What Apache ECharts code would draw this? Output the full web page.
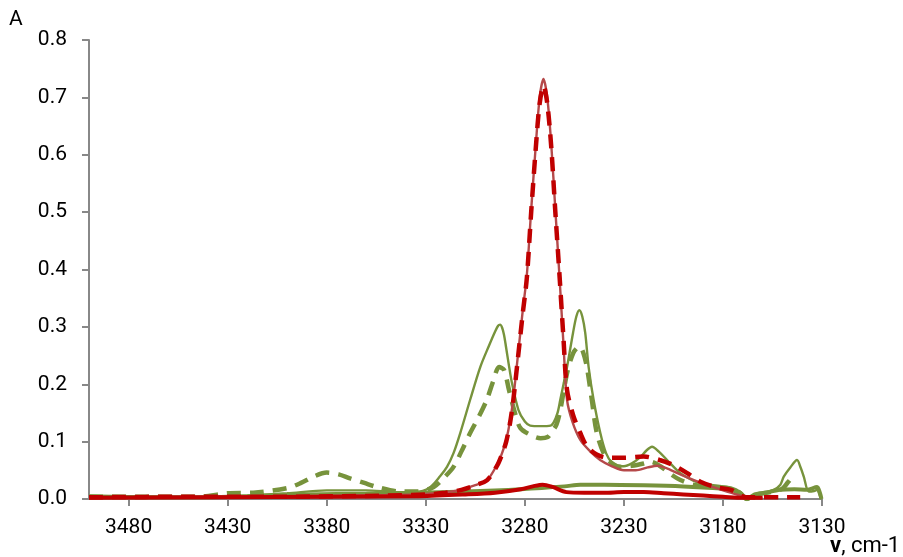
<!DOCTYPE html>
<html><head><meta charset="utf-8">
<script src="https://cdn.jsdelivr.net/npm/echarts@6/dist/echarts.min.js"></script>
<style>html,body{margin:0;padding:0;background:#fff}#c{width:903px;height:557px}</style>
</head><body><div id="c"></div>
<script>
// Wavenumbers (cm-1) and absorbance values for each curve
const greenThinX = [3500,3480,3460,3440,3420,3400,3380,3360,3345,3335,3328,3322.7,3319.3,3316,3312.6,3307.6,3302.5,3298,3295,3293.5,3292.5,3291.5,3290.5,3289.5,3288,3286.5,3283.2,3280,3277.3,3272,3267,3265.5,3263.5,3262.1,3258.7,3255.7,3254,3252.5,3251,3249.5,3247.8,3245.3,3241.9,3239,3236,3233,3230,3226,3222,3218.5,3215.8,3212.5,3208.2,3201.5,3195,3191.4,3185,3176,3171,3168,3165,3160,3154.4,3151,3149.3,3146,3142.6,3140.8,3139.2,3136.7,3134,3132.5,3130.8,3130];
const greenThinY = [0.006,0.005,0.004,0.003,0.006,0.010,0.015,0.015,0.012,0.012,0.020,0.040,0.056,0.080,0.115,0.173,0.230,0.268,0.292,0.302,0.304,0.299,0.286,0.265,0.232,0.202,0.155,0.135,0.128,0.127,0.128,0.133,0.150,0.173,0.230,0.289,0.318,0.329,0.318,0.289,0.230,0.173,0.115,0.080,0.063,0.058,0.057,0.062,0.072,0.085,0.091,0.083,0.068,0.045,0.032,0.028,0.024,0.020,0.012,0.000,0.006,0.010,0.016,0.025,0.039,0.055,0.068,0.055,0.039,0.013,0.014,0.016,0.003,0.000];

const greenDashX = [3500,3470,3445,3430,3417,3400,3393,3386.7,3380,3374,3368.2,3361,3354.7,3343,3334.5,3326,3320,3316,3312,3307.6,3303,3299.2,3296,3293,3290.5,3288,3285,3282.3,3277.3,3272,3268.5,3266.4,3264,3262.1,3258.7,3255.5,3252.4,3250.5,3248.7,3246.2,3243.6,3239.4,3235,3231.8,3226,3220,3216.7,3212,3205.8,3201.5,3195,3185,3176,3171,3168,3163,3156,3150,3147,3144.9,3143];
const greenDashY = [0.004,0.004,0.004,0.010,0.011,0.019,0.028,0.039,0.046,0.043,0.036,0.028,0.021,0.013,0.013,0.021,0.040,0.056,0.083,0.115,0.145,0.173,0.205,0.230,0.225,0.190,0.150,0.124,0.112,0.106,0.108,0.117,0.130,0.155,0.219,0.255,0.266,0.255,0.230,0.173,0.114,0.074,0.060,0.056,0.058,0.062,0.065,0.058,0.042,0.033,0.025,0.021,0.018,0.010,0.000,0.008,0.012,0.018,0.030,0.037,0.033];

const greenThickX = [3500,3450,3420,3390,3360,3335,3310,3282,3260,3252,3240,3220,3200,3185,3176,3172,3168,3164,3160,3151,3144,3137.6,3132.5,3131,3130.3];
const greenThickY = [0.003,0.003,0.005,0.008,0.009,0.011,0.013,0.017,0.022,0.025,0.025,0.024,0.022,0.019,0.016,0.010,0.000,0.008,0.010,0.016,0.017,0.016,0.021,0.010,0.000];

const redThinX = [3500,3450,3400,3350,3330,3315,3305,3299,3294,3291.5,3289.4,3287.5,3285.9,3283.5,3281,3279,3276.8,3274.4,3272.5,3270.6,3268.7,3266.7,3264.6,3262.5,3260.5,3258.7,3256,3252,3247,3242,3236,3230,3224,3218,3213,3208,3201,3194,3186,3178,3171,3165,3160];
const redThinY = [0.003,0.004,0.005,0.007,0.009,0.014,0.024,0.033,0.060,0.080,0.103,0.135,0.173,0.250,0.330,0.390,0.504,0.620,0.700,0.732,0.700,0.620,0.504,0.387,0.270,0.173,0.135,0.103,0.083,0.068,0.057,0.050,0.050,0.055,0.058,0.053,0.042,0.032,0.022,0.013,0.006,0.002,0.001];

const redDashX = [3500,3450,3400,3350,3330,3320,3312,3305,3299,3294,3291.5,3289.4,3287.5,3285.9,3283.5,3281,3279,3276.8,3274.4,3272.5,3270.6,3268.7,3266.7,3264.6,3262.5,3260.5,3258.7,3255.5,3252,3248.7,3244,3238.5,3230,3220,3212,3205,3198,3191.4,3183,3176,3168,3160,3150,3141];
const redDashY = [0.003,0.004,0.004,0.006,0.008,0.011,0.016,0.024,0.033,0.058,0.078,0.100,0.132,0.170,0.245,0.325,0.385,0.500,0.615,0.690,0.720,0.690,0.615,0.500,0.390,0.280,0.190,0.145,0.115,0.092,0.078,0.072,0.072,0.074,0.068,0.059,0.045,0.030,0.020,0.016,0.003,0.003,0.003,0.003];

const redThickX = [3500,3430,3380,3333,3310,3295,3282,3276,3271,3266,3259,3250,3240,3230,3220,3210,3200,3190,3180,3170,3160];
const redThickY = [0.002,0.003,0.004,0.005,0.008,0.011,0.017,0.022,0.025,0.021,0.012,0.011,0.011,0.012,0.012,0.010,0.008,0.006,0.004,0.002,0.002];

const xTickMin = 3130, xTickMax = 3500, xStep = 50;
const yTickMin = 0, yTickMax = 0.8, yStep = 0.1;

const zip = (xs, ys) => xs.map((x, i) => [x, ys[i]]);
const GREEN = '#77933C', RED = '#C00000', RED_THIN = '#B5494A';
const FONT = 'Roboto';

const chart = echarts.init(document.getElementById('c'), null, {renderer: 'canvas'});
chart.setOption({
  animation: false,
  backgroundColor: '#fff',
  grid: {left: 89, right: 81, top: 40, bottom: 58},
  xAxis: {
    type: 'value', inverse: true, min: xTickMin, max: xTickMax, interval: xStep,
    splitLine: {show: false},
    axisLine: {lineStyle: {color: '#888', width: 2}},
    axisTick: {length: 7, lineStyle: {color: '#888', width: 2}},
    axisLabel: {showMaxLabel: false, margin: 18, color: '#000', fontSize: 21, fontFamily: FONT, formatter: v => String(v)}
  },
  yAxis: {
    type: 'value', min: yTickMin, max: yTickMax, interval: yStep,
    splitLine: {show: false},
    axisLine: {show: true, lineStyle: {color: '#888', width: 2}},
    axisTick: {show: true, length: 7, lineStyle: {color: '#888', width: 2}},
    axisLabel: {margin: 22, color: '#000', fontSize: 21, fontFamily: FONT, formatter: v => v.toFixed(1)}
  },
  graphic: [
    {type: 'text', left: 9, top: 9, style: {text: 'A', fontSize: 21, fontFamily: FONT, fill: '#000'}},
    {type: 'text', left: 830, top: 535, style: {
      rich: {b: {fontWeight: 'bold', fontSize: 22, fontFamily: FONT, fill: '#000'}, n: {fontSize: 22, fontFamily: FONT, fill: '#000'}},
      text: '{b|v}{n|, cm-1}'}}
  ],
  series: [
    {type: 'line', data: zip(greenThickX, greenThickY), smooth: 0.3, showSymbol: false, lineStyle: {color: GREEN, width: 4}, z: 2},
    {type: 'line', data: zip(greenThinX, greenThinY), smooth: 0.3, showSymbol: false, lineStyle: {color: GREEN, width: 2.4}, z: 3},
    {type: 'line', data: zip(greenDashX, greenDashY), smooth: 0.3, showSymbol: false, lineStyle: {color: GREEN, width: 4.5, type: [14, 9]}, z: 4},
    {type: 'line', data: zip(redThinX, redThinY), smooth: 0.3, showSymbol: false, lineStyle: {color: RED_THIN, width: 2.4}, z: 5},
    {type: 'line', data: zip(redDashX, redDashY), smooth: 0.3, showSymbol: false, lineStyle: {color: RED, width: 4.5, type: [14, 9]}, z: 6},
    {type: 'line', data: zip(redThickX, redThickY), smooth: 0.3, showSymbol: false, lineStyle: {color: RED, width: 4}, z: 7}
  ]
});
</script></body></html>
